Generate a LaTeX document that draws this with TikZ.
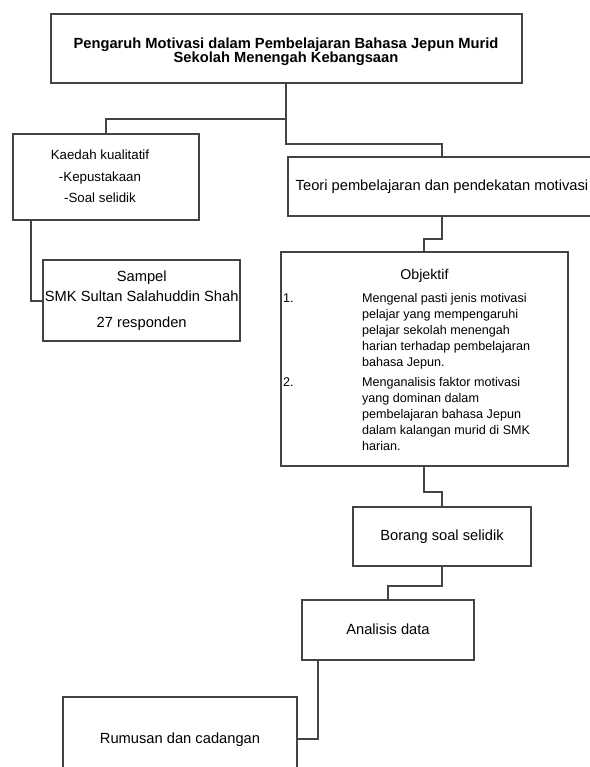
\documentclass[tikz,border=0pt]{standalone}
\usepackage{fontspec}
\setmainfont{Liberation Sans}
\usetikzlibrary{positioning}
\definecolor{boxline}{HTML}{444444}

\begin{document}
\begin{tikzpicture}[x=1pt, y=1pt, box/.style={draw=boxline, line width=2pt, align=center, inner sep=0pt, font=\fontsize{14.7}{17}\selectfont}, link/.style={draw=boxline, line width=2pt}]
\useasboundingbox (0,0) rectangle (589,-767);
\node[box, minimum width=471pt, minimum height=69pt, font=\bfseries\fontsize{14.7}{17}\selectfont] (title) at (286,-48.5) {\rule{0pt}{17pt}Pengaruh Motivasi dalam Pembelajaran Bahasa Jepun Murid\\[-3.2pt]Sekolah Menengah Kebangsaan};
\node[box, minimum width=186pt, minimum height=86.3pt, below=48.7pt of title, xshift=-180pt, font=\fontsize{13.3}{21.7}\selectfont] (kaedah) {\begin{tabular}{@{}c@{}}Kaedah kualitatif\\-Kepustakaan\\-Soal selidik\end{tabular}\hspace{12pt}};
\node[box, minimum width=308pt, minimum height=58.5pt, below=72pt of title, xshift=156pt] (teori) {Teori pembelajaran dan pendekatan motivasi};
\node[box, minimum width=197.4pt, minimum height=81pt, below=38pt of kaedah, xshift=35.7pt, font=\fontsize{14.7}{20}\selectfont] (sampel) {Sampel\\SMK Sultan Salahuddin Shah\\[5.7pt]27 responden};
\node[box, minimum width=286.7pt, minimum height=213.4pt, below=34.8pt of teori, xshift=-17.6pt, font=\fontsize{12.6}{16}\selectfont] (objektif) {\begin{tabular}{@{\hspace{2pt}}p{79pt}@{}p{205.7pt}@{}}
\multicolumn{2}{c}{\rule{0pt}{15.8pt}\fontsize{14.2}{16}\selectfont Objektif}\\[7pt]
1. & Mengenal pasti jenis motivasi\\
 & pelajar yang mempengaruhi\\
 & pelajar sekolah menengah\\
 & harian terhadap pembelajaran\\
 & bahasa Jepun.\\[4pt]
2. & Menganalisis faktor motivasi\\
 & yang dominan dalam\\
 & pembelajaran bahasa Jepun\\
 & dalam kalangan murid di SMK\\
 & harian.
\end{tabular}};
\node[box, minimum width=177.4pt, minimum height=59.3pt, below=39pt of objektif, xshift=17.6pt] (borang) {Borang soal selidik};
\node[box, minimum width=172.6pt, minimum height=60pt, below=31.7pt of borang, xshift=-54pt] (analisis) {Analisis data};
\node[box, minimum width=233.4pt, minimum height=84pt, below=35.6pt of analisis, xshift=-208pt] (rumusan) {Rumusan dan cadangan};
\draw[link] (title.south) -- ++(0,-35) -| (kaedah.north);
\draw[link] (title.south) -- ++(0,-60) -| (teori.north);
\draw[link] ([xshift=19pt]kaedah.south west) |- (sampel.west);
\draw[link] (teori.south) -- ++(0,-22) -| (objektif.north);
\draw[link] (objektif.south) -- ++(0,-25) -| (borang.north);
\draw[link] (borang.south) -- ++(0,-19) -| (analisis.north);
\draw[link] ([xshift=17pt]analisis.south west) |- (rumusan.east);
\end{tikzpicture}
\end{document}
